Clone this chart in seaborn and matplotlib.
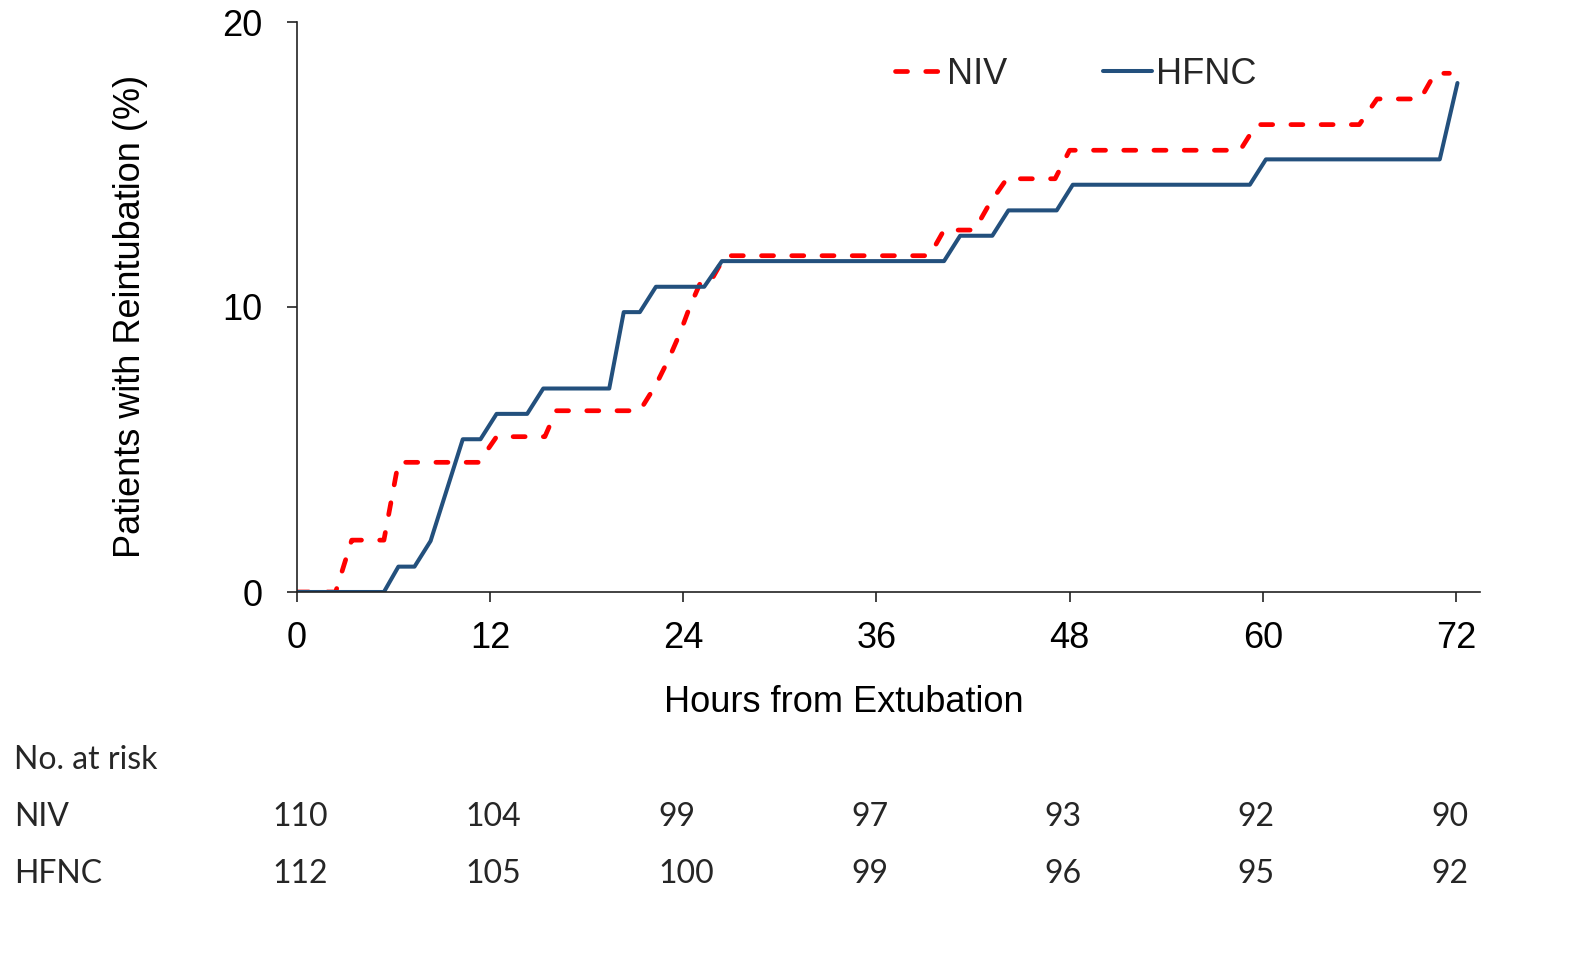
import matplotlib
matplotlib.use("Agg")
import matplotlib.pyplot as plt
import matplotlib.transforms as mtransforms
import seaborn as sns
import pandas as pd

# ---- data ----
niv_hours = [0, 2.4, 3.4, 5.4, 6.3, 11.3, 12.4, 15.4, 16.1, 21.3, 22.3, 23.1, 23.8,
             24.4, 25.1, 25.7, 26.6, 39.3, 40.2, 42.1, 43.0, 44.1, 47.1, 48.0,
             58.6, 59.6, 66.0, 67.1, 69.8, 70.7, 71.6]
niv_pct = [0, 0, 1.82, 1.82, 4.55, 4.55, 5.45, 5.45, 6.36, 6.36, 7.27, 8.18, 9.09,
           10.0, 10.9, 10.9, 11.8, 11.8, 12.7, 12.7, 13.6, 14.5, 14.5, 15.5,
           15.5, 16.4, 16.4, 17.3, 17.3, 18.2, 18.2]
hfnc_hours = [0, 5.4, 6.3, 7.3, 8.3, 10.3, 11.4, 12.4, 14.3, 15.3, 19.4, 20.3, 21.3,
              22.3, 25.3, 26.4, 40.2, 41.2, 43.2, 44.2, 47.2, 48.2, 59.2, 60.2,
              71.0, 72.1]
hfnc_pct = [0, 0, 0.89, 0.89, 1.79, 5.36, 5.36, 6.25, 6.25, 7.14, 7.14, 9.82, 9.82,
            10.71, 10.71, 11.61, 11.61, 12.5, 12.5, 13.39, 13.39, 14.29, 14.29, 15.18,
            15.18, 17.86]
x_ticks = [0, 12, 24, 36, 48, 60, 72]
y_ticks = [0, 10, 20]
risk_niv = [110, 104, 99, 97, 93, 92, 90]
risk_hfnc = [112, 105, 100, 99, 96, 95, 92]

NIV_COLOR = "#FF0000"
HFNC_COLOR = "#23507D"

sns.set_theme(style="ticks")
plt.rcParams["font.family"] = ["Liberation Sans", "DejaVu Sans"]

fig = plt.figure(figsize=(15.94, 9.74), dpi=100)
ax = fig.add_axes([297 / 1594, 1 - 592 / 974, (1480 - 297) / 1594, (592 - 22) / 974])

df_niv = pd.DataFrame({"h": niv_hours, "p": niv_pct})
df_hfnc = pd.DataFrame({"h": hfnc_hours, "p": hfnc_pct})

sns.lineplot(data=df_niv, x="h", y="p", ax=ax, color=NIV_COLOR, linewidth=3.4,
             estimator=None, sort=False, label="NIV")
l_niv = ax.lines[-1]
l_niv.set_dashes((2.55, 3.85))
l_niv.set_dash_capstyle("round")
sns.lineplot(data=df_hfnc, x="h", y="p", ax=ax, color=HFNC_COLOR, linewidth=2.9,
             estimator=None, sort=False, label="HFNC")
l_hfnc = ax.lines[-1]
l_hfnc.set_solid_capstyle("round")

ax.set_xlim(0, 73.5)
ax.set_ylim(0, 20)
ax.set_xticks(x_ticks)
ax.set_yticks(y_ticks)
ax.tick_params(axis="both", labelsize=26, length=7, width=1.2, color="#222222",
               labelcolor="black", direction="out")
ax.tick_params(axis="x", pad=14)
ax.tick_params(axis="y", pad=18)
for s in ["top", "right"]:
    ax.spines[s].set_visible(False)
for s in ["left", "bottom"]:
    ax.spines[s].set_color("#222222")
    ax.spines[s].set_linewidth(1.2)

ax.set_xlabel("Hours from Extubation", fontsize=26, color="black")
ax.xaxis.set_label_coords((844 - 297) / (1480 - 297), -(702 - 592) / (592 - 22), transform=ax.transAxes)
ax.xaxis.label.set_verticalalignment("center")
ax.set_ylabel("Patients with Reintubation (%)", fontsize=26, color="black")
ax.yaxis.set_label_coords(-(297 - 131) / (1480 - 297), (592 - 316) / (592 - 22))
ax.yaxis.label.set_verticalalignment("center")

ax.legend(handles=[l_niv, l_hfnc], labels=["NIV", "HFNC"], ncol=2, frameon=False,
          fontsize=26, loc="center left", bbox_to_anchor=(895 / 1594, 1 - 74 / 974),
          bbox_transform=fig.transFigure, borderpad=0, borderaxespad=0,
          handlelength=1.35, handletextpad=0.1, columnspacing=2.65)

# ---- number at risk table ----
tfont = ["Lato", "DejaVu Sans"]
fs_t = 23
fig.text(14 / 1594, 1 - 760 / 974, "No. at risk", fontsize=fs_t, family=tfont,
         ha="left", va="center")
fig.text(14 / 1594, 1 - 817 / 974, "NIV", fontsize=fs_t, family=tfont, ha="left", va="center")
fig.text(14 / 1594, 1 - 874 / 974, "HFNC", fontsize=fs_t, family=tfont, ha="left", va="center")
trans = mtransforms.blended_transform_factory(ax.transData, fig.transFigure)
for xt, a, b in zip(x_ticks, risk_niv, risk_hfnc):
    ax.text(xt - 1.55, 1 - 817 / 974, str(a), transform=trans, fontsize=fs_t,
            family=tfont, ha="left", va="center", clip_on=False)
    ax.text(xt - 1.55, 1 - 874 / 974, str(b), transform=trans, fontsize=fs_t,
            family=tfont, ha="left", va="center", clip_on=False)

fig.savefig("out.png", dpi=100, facecolor="white")
